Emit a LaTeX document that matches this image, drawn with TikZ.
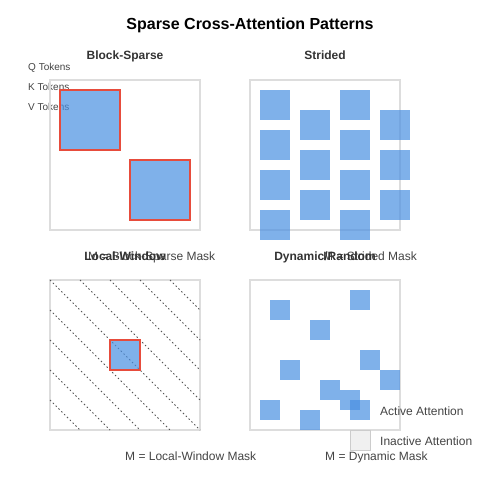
\documentclass[tikz,border=0pt]{standalone}
\usepackage{fontspec}
\setmainfont{Liberation Sans}
\definecolor{blueA}{HTML}{4A90E2}
\definecolor{redA}{HTML}{E74C3C}
\definecolor{boxgray}{HTML}{DDDDDD}
\definecolor{titlegray}{HTML}{333333}
\definecolor{capgray}{HTML}{444444}
\definecolor{diaggray}{HTML}{555555}
\definecolor{inactfill}{HTML}{F0F0F0}
\definecolor{inactdraw}{HTML}{CCCCCC}
\tikzset{
  panelbox/.style={draw=boxgray, line width=1.5pt},
  active/.style={fill=blueA, fill opacity=0.7},
  hlsq/.style={active, draw=redA, line width=2pt},
  diagline/.style={draw=diaggray, line width=0.8pt, dash pattern=on 1.5pt off 2.5pt},
  maintitle/.style={font=\fontsize{16}{19}\selectfont\bfseries, text=black, anchor=base, inner sep=0},
  ptitle/.style={font=\fontsize{12}{14}\selectfont\bfseries, text=titlegray, anchor=base, inner sep=0},
  pcap/.style={font=\fontsize{12}{14}\selectfont, text=capgray, anchor=base west, inner sep=0},
  toklabel/.style={font=\fontsize{10}{12}\selectfont, text=capgray, anchor=base west, inner sep=0},
  legtext/.style={font=\fontsize{12}{14}\selectfont, text=capgray, anchor=base west, inner sep=0},
}
\begin{document}
\begin{tikzpicture}[x=1pt,y=-1pt]
\useasboundingbox (0,0) rectangle (500,500);
\fill[white] (0,0) rectangle (500,500);

% main title
\node[maintitle] (title) at (250,30) {Sparse Cross-Attention Patterns};

% ---------- Panel 1: Block-Sparse ----------
\node[ptitle] (t1) at (125,60) {Block-Sparse};
\node[toklabel] (q) at (28,70.5) {Q Tokens};
\node[toklabel] (k) at (28,90.5) {K Tokens};
\node[toklabel] (v) at (28,110.5) {V Tokens};
\draw[panelbox] (50,80) rectangle (200,230);
\path[hlsq] (60,90) rectangle (120,150);
\path[hlsq] (130,160) rectangle (190,220);
\node[pcap] (c1) at (88,260) {M = Block-Sparse Mask};

% ---------- Panel 2: Strided ----------
\node[ptitle] (t2) at (325,60) {Strided};
\draw[panelbox] (250,80) rectangle (400,230);
\foreach \yy in {90,130,170,210} {
  \path[active] (260,\yy) rectangle ++(30,30);
  \path[active] (340,\yy) rectangle ++(30,30);
}
\foreach \yy in {110,150,190} {
  \path[active] (300,\yy) rectangle ++(30,30);
  \path[active] (380,\yy) rectangle ++(30,30);
}
\node[pcap] (c2) at (323,260) {M = Strided Mask};

% ---------- Panel 3: Local-Window ----------
\node[ptitle] (t3) at (125,260) {Local-Window};
\draw[panelbox] (50,280) rectangle (200,430);
\draw[diagline] (50,280) -- (200,430);
\draw[diagline] (80,280) -- (200,400);
\draw[diagline] (110,280) -- (200,370);
\draw[diagline] (140,280) -- (200,340);
\draw[diagline] (170,280) -- (200,310);
\draw[diagline] (50,310) -- (170,430);
\draw[diagline] (50,340) -- (140,430);
\draw[diagline] (50,370) -- (110,430);
\draw[diagline] (50,400) -- (80,430);
\path[hlsq] (110,340) rectangle (140,370);
\node[pcap] (c3) at (125,460) {M = Local-Window Mask};

% ---------- Panel 4: Dynamic/Random ----------
\node[ptitle] (t4) at (325,260) {Dynamic/Random};
\draw[panelbox] (250,280) rectangle (400,430);
\foreach \xx/\yy in {270/300, 350/290, 310/320, 360/350, 280/360, 380/370, 320/380, 340/390, 260/400, 300/410} {
  \path[active] (\xx,\yy) rectangle ++(20,20);
}
\node[pcap] (c4) at (325,460) {M = Dynamic Mask};

% ---------- Legend ----------
\path[active] (350,400) rectangle (370,420);
\node[legtext] (la) at (380,415) {Active Attention};
\path[fill=inactfill, draw=inactdraw, line width=1pt] (350,430) rectangle (370,450);
\node[legtext] (li) at (380,445) {Inactive Attention};
\end{tikzpicture}
\end{document}
